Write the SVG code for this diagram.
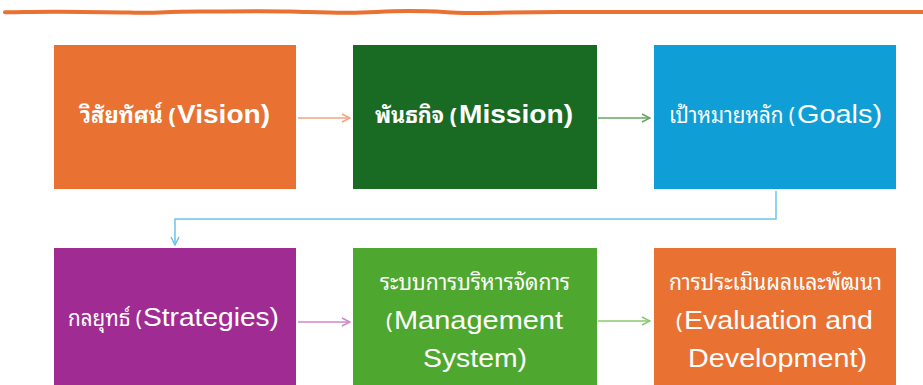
<svg xmlns="http://www.w3.org/2000/svg" width="923" height="385" viewBox="0 0 923 385">
  <style>
    .en { font-family: "Liberation Sans", Arial, sans-serif; fill: #ffffff; font-size: 26px; }
    .en.b { font-weight: bold; font-size: 26px; }
    .th { font-family: "Noto Sans Thai Looped", "Noto Sans Thai", "Leelawadee UI", Tahoma, "Loma", "Garuda", "DejaVu Sans", "Noto Sans", sans-serif; fill: #ffffff; font-size: 22px; }
    .th.b { font-weight: bold; }
    .conn { fill: none; stroke-width: 1.5; }
  </style>
  <defs>
    <marker id="ah-orange" viewBox="0 0 10 10" refX="9" refY="5" markerWidth="10" markerHeight="10" markerUnits="userSpaceOnUse" orient="auto">
      <path d="M1,1 L9,5 L1,9" fill="none" stroke="#F2A47C" stroke-width="1.5"/>
    </marker>
    <marker id="ah-dkgreen" viewBox="0 0 10 10" refX="9" refY="5" markerWidth="10" markerHeight="10" markerUnits="userSpaceOnUse" orient="auto">
      <path d="M1,1 L9,5 L1,9" fill="none" stroke="#64A564" stroke-width="1.5"/>
    </marker>
    <marker id="ah-blue" viewBox="0 0 10 10" refX="9" refY="5" markerWidth="10" markerHeight="10" markerUnits="userSpaceOnUse" orient="auto">
      <path d="M1,1 L9,5 L1,9" fill="none" stroke="#6CC4EC" stroke-width="1.5"/>
    </marker>
    <marker id="ah-purple" viewBox="0 0 10 10" refX="9" refY="5" markerWidth="10" markerHeight="10" markerUnits="userSpaceOnUse" orient="auto">
      <path d="M1,1 L9,5 L1,9" fill="none" stroke="#CF86C8" stroke-width="1.5"/>
    </marker>
    <marker id="ah-green" viewBox="0 0 10 10" refX="9" refY="5" markerWidth="10" markerHeight="10" markerUnits="userSpaceOnUse" orient="auto">
      <path d="M1,1 L9,5 L1,9" fill="none" stroke="#88C96E" stroke-width="1.5"/>
    </marker>
  </defs>

  <rect width="923" height="385" fill="#ffffff"/>

  <!-- hand-drawn rule across the top -->
  <path id="top-rule" d="M5,12.3 C30,12 40,11.6 60,11.8 C90,12 110,11.8 130,12.6 C145,13.4 160,12 200,11.6 C240,11.2 265,10.9 290,11.5 C315,12.2 330,13 350,12.8 C375,12.4 385,11 410,11.1 C440,11.3 455,13 480,13 C505,12.8 520,12 560,12 C700,12 800,12 923,12" fill="none" stroke="#E97132" stroke-width="4" stroke-linecap="round"/>

  <g id="connectors">
    <path class="conn" d="M298,118 L350,118" stroke="#F2A47C" marker-end="url(#ah-orange)"/>
    <path class="conn" d="M598,118 L650,118" stroke="#64A564" marker-end="url(#ah-dkgreen)"/>
    <path class="conn" d="M776,191 L776,219 L175,219 L175,245" stroke="#6CC4EC" marker-end="url(#ah-blue)"/>
    <path class="conn" d="M298,322 L350,322" stroke="#CF86C8" marker-end="url(#ah-purple)"/>
    <path class="conn" d="M598,321 L650,321" stroke="#88C96E" marker-end="url(#ah-green)"/>
  </g>

  <g id="vision">
    <rect x="54" y="45" width="242" height="144" fill="#E97132"/>
    <text class="th b" x="80" y="123" textLength="96" lengthAdjust="spacingAndGlyphs">วิสัยทัศน์ (</text>
    <text class="en b" x="177" y="123" textLength="93" lengthAdjust="spacingAndGlyphs">Vision)</text>
  </g>

  <g id="mission">
    <rect x="353" y="45" width="244" height="144" fill="#196B24"/>
    <text class="th b" x="375" y="123" textLength="82" lengthAdjust="spacingAndGlyphs">พันธกิจ (</text>
    <text class="en b" x="459" y="123" textLength="114" lengthAdjust="spacingAndGlyphs">Mission)</text>
  </g>

  <g id="goals">
    <rect x="654" y="45" width="242" height="144" fill="#0F9ED5"/>
    <text class="th" x="669" y="123" textLength="126" lengthAdjust="spacingAndGlyphs">เป้าหมายหลัก (</text>
    <text class="en" x="797" y="123" textLength="85" lengthAdjust="spacingAndGlyphs">Goals)</text>
  </g>

  <g id="strategies">
    <rect x="54" y="248" width="242" height="144" fill="#A02B93"/>
    <text class="th" x="68" y="326" textLength="74" lengthAdjust="spacingAndGlyphs">กลยุทธ์ (</text>
    <text class="en" x="143" y="326" textLength="136" lengthAdjust="spacingAndGlyphs">Strategies)</text>
  </g>

  <g id="management-system">
    <rect x="353" y="248" width="244" height="144" fill="#4EA72E"/>
    <text class="th" x="380" y="290" textLength="190" lengthAdjust="spacingAndGlyphs">ระบบการบริหารจัดการ</text>
    <text class="th" x="386" y="329">(</text>
    <text class="en" x="394" y="329" textLength="169" lengthAdjust="spacingAndGlyphs">Management</text>
    <text class="en" x="423" y="367" textLength="104" lengthAdjust="spacingAndGlyphs">System)</text>
  </g>

  <g id="evaluation-development">
    <rect x="654" y="248" width="242" height="144" fill="#E97132"/>
    <text class="th" x="669" y="290" textLength="213" lengthAdjust="spacingAndGlyphs">การประเมินผลและพัฒนา</text>
    <text class="th" x="676" y="329">(</text>
    <text class="en" x="684" y="329" textLength="189" lengthAdjust="spacingAndGlyphs">Evaluation and</text>
    <text class="en" x="688" y="367" textLength="179" lengthAdjust="spacingAndGlyphs">Development)</text>
  </g>
</svg>
